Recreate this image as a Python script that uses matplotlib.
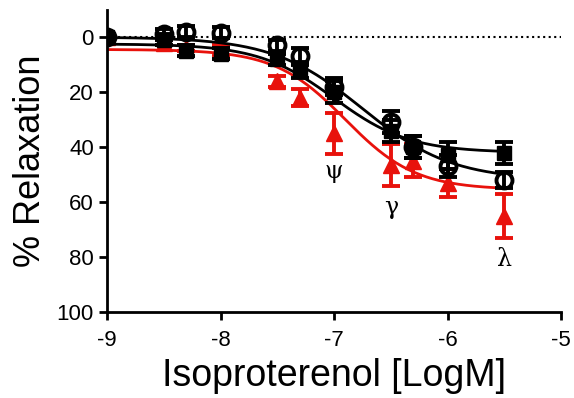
import matplotlib.pyplot as plt
import numpy as np

plt.rcParams['font.family'] = ['Liberation Sans', 'DejaVu Sans']

log_dose = np.array([-9, -8.5, -8.3, -8, -7.5, -7.3, -7, -6.5, -6.3, -6, -5.5])

circ_y = np.array([0, -1, -2, -1.5, 3, 7, 18, 31, 40, 47, 52])
circ_err = np.array([1, 2, 2, 2, 2, 3, 3, 4, 4, 4, 3])

sq_y = np.array([0, 1, 5, 6, 8, 12, 20, 34, 40, 43, 42])
sq_err = np.array([1, 2, 2, 2, 2, 3, 4, 4, 4, 5, 4])

tri_y = np.array([0, 2, 4, 5, 16, 22, 35, 46.5, 45, 53, 65])
tri_err = np.array([1, 1, 1, 2, 2, 3, 7.5, 7.5, 6, 5, 8])

# fitted sigmoid parameters (bottom, top, logEC50, hill)
circ_fit = (0, 52, -6.75, 1.1)
sq_fit = (2.5, 42, -7.0, 1.3)
tri_fit = (4.5, 55.5, -6.9, 1.4)

marks = ['\u03c8', '\u03b3', '\u03bb']
mark_x = [-7, -6.5, -5.5]
mark_y = [49, 62, 81]


def sigmoid(x, p):
    bottom, top, ec50, hill = p
    return bottom + (top - bottom) / (1 + 10 ** ((ec50 - x) * hill))


fig = plt.figure(figsize=(5.74, 3.98), dpi=100)
ax = fig.add_axes([0.1864, 0.216, 0.791, 0.76])

xs = np.linspace(-9, -5.5, 200)
ax.plot([-9, -5], [0, 0], color='black', ls=':', lw=1.5, zorder=1)

ax.plot(xs, sigmoid(xs, tri_fit), color='#e8120c', lw=2, zorder=2)
ax.errorbar(log_dose, tri_y, yerr=tri_err, fmt='^', color='#e8120c', ms=11,
            elinewidth=2.8, capsize=6.5, capthick=2.8, zorder=3)

ax.plot(xs, sigmoid(xs, sq_fit), color='black', lw=2, zorder=4)
ax.errorbar(log_dose, sq_y, yerr=sq_err, fmt='s', color='black', ms=10.5,
            elinewidth=2.8, capsize=6.5, capthick=2.8, zorder=5)

ax.plot(xs, sigmoid(xs, circ_fit), color='black', lw=2, zorder=6)
ax.errorbar(log_dose, circ_y, yerr=circ_err, fmt='o', color='black', ms=11.5,
            mfc='none', mew=2.8, elinewidth=2.8, capsize=6.5, capthick=2.8, zorder=7)

for m, mx, my in zip(marks, mark_x, mark_y):
    ax.text(mx, my, m, fontsize=17, family=['DejaVu Serif'], ha='center', va='center')

ax.set_xlim(-9, -5)
ax.set_ylim(100, -10)
ax.set_xticks([-9, -8, -7, -6, -5])
ax.set_yticks([0, 20, 40, 60, 80, 100])
ax.set_xticklabels(['-9', '-8', '-7', '-6', '-5'])
ax.tick_params(labelsize=16, width=2, length=6)
ax.tick_params(axis='x', pad=7)
ax.spines['top'].set_visible(False)
ax.spines['right'].set_visible(False)
ax.spines['left'].set_linewidth(2)
ax.spines['bottom'].set_linewidth(2)
ax.set_xlabel('Isoproterenol [LogM]', fontsize=27, labelpad=5)
ax.set_ylabel('% Relaxation', fontsize=26, labelpad=6)

fig.savefig('out.png', dpi=100)
